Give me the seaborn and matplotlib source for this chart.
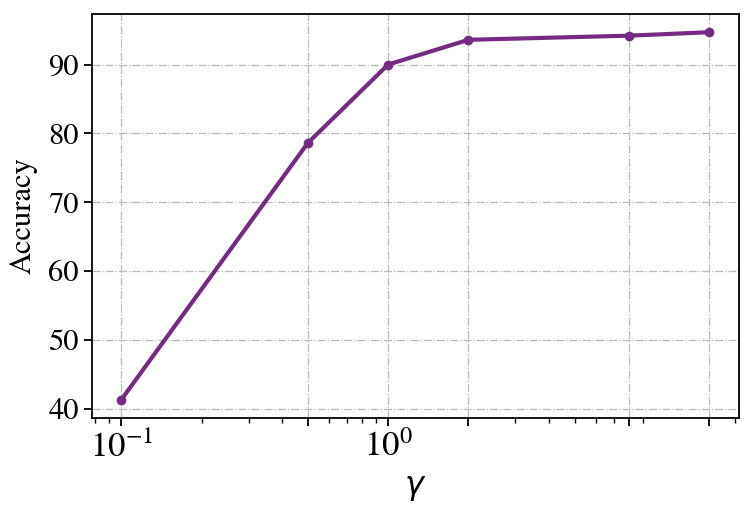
import numpy as np
import pandas as pd
import matplotlib
matplotlib.use("Agg")
import matplotlib.pyplot as plt
import seaborn as sns

# valores
gamma = [0.1, 0.5, 1, 2, 8, 16]
accuracy = [41.3, 78.6, 90.0, 93.6, 94.2, 94.7]

df = pd.DataFrame({"gamma": gamma, "accuracy": accuracy})

sns.set_style("ticks")
plt.rcParams["font.family"] = ["STIXGeneral", "DejaVu Serif"]
plt.rcParams["mathtext.fontset"] = "stix"
plt.rcParams["text.color"] = "black"
plt.rcParams["axes.labelcolor"] = "black"
plt.rcParams["xtick.color"] = "black"
plt.rcParams["ytick.color"] = "black"

fig = plt.figure(figsize=(7.47, 5.13), dpi=100)
ax = fig.add_axes([0.123, 0.185, 0.866, 0.788])

sns.lineplot(data=df, x="gamma", y="accuracy", ax=ax, color="#762a83",
             linewidth=3.0, marker="o", markersize=7, markeredgewidth=0)

ax.set_xscale("log")
ax.set_xticks(gamma)
ax.set_yticks([40, 50, 60, 70, 80, 90])
ax.grid(True, which="major", linestyle="-.", color="#bbbbbb", linewidth=0.9)

for s in ax.spines.values():
    s.set_linewidth(1.3)
    s.set_color("black")
ax.tick_params(axis="both", which="major", length=6, width=1.3, direction="out")
ax.tick_params(axis="y", which="major", labelsize=22)
ax.tick_params(axis="x", which="major", labelsize=25)
ax.tick_params(axis="x", which="minor", length=3.5, width=1.0)

ax.set_xlabel(r"$\gamma$", fontsize=23, math_fontfamily="dejavusans",
              labelpad=6)
ax.set_ylabel("Accuracy", fontsize=22, labelpad=8)

fig.savefig("out.png", dpi=100)
